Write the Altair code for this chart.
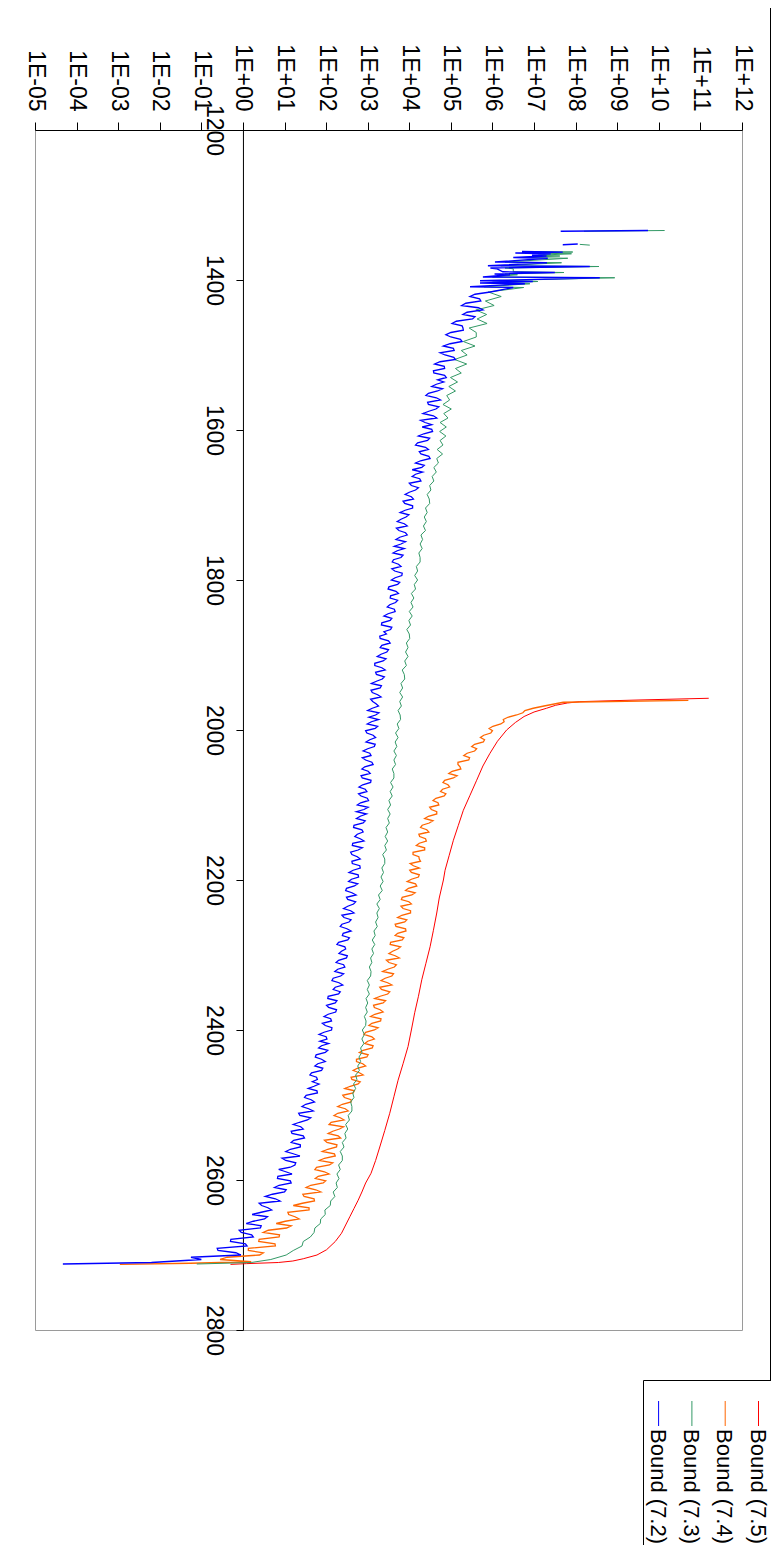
import numpy as np
import pandas as pd
import altair as alt

series_names = ["Bound (7.5)", "Bound (7.4)", "Bound (7.3)", "Bound (7.2)"]
series_colors = ["#FF0000", "#FF6600", "#339966", "#0000FF"]
series_widths = [1.0, 1.3, 1.0, 1.3]

x_ticks = [1e-5, 1e-4, 1e-3, 1e-2, 1e-1, 1e0, 1e1, 1e2, 1e3, 1e4, 1e5, 1e6,
           1e7, 1e8, 1e9, 1e10, 1e11, 1e12]
x_tick_labels = ["1E-05", "1E-04", "1E-03", "1E-02", "1E-01", "1E+00", "1E+01",
                 "1E+02", "1E+03", "1E+04", "1E+05", "1E+06", "1E+07", "1E+08",
                 "1E+09", "1E+10", "1E+11", "1E+12"]
y_ticks = [1200, 1400, 1600, 1800, 2000, 2200, 2400, 2600, 2800]

nan = float("nan")
STEP = 6  # sample spacing of the dense parts (mid samples sit half-way)

# ---- Bound (7.5): exponents (log10 of value)
red_t = [1957.7, 1960.0, 1962.2, 1964, 1967, 1971, 1976, 1982, 1990, 2000, 2015,
         2031, 2048, 2067, 2087, 2107, 2127, 2147, 2167, 2187, 2200, 2224, 2244,
         2267, 2289, 2311, 2333, 2355, 2377, 2400, 2422, 2445, 2467, 2489, 2511,
         2534, 2556, 2574, 2591, 2604, 2616, 2627, 2638, 2649, 2660, 2671, 2682,
         2693, 2700, 2705, 2708, 2710, 2711.5, 2712.5]
red_e = [11.20, 9.50, 8.10, 7.80, 7.52, 7.30, 7.00, 6.76, 6.55, 6.34, 6.12, 5.94,
         5.77, 5.62, 5.46, 5.30, 5.18, 5.06, 4.96, 4.86, 4.82, 4.72, 4.66, 4.58,
         4.50, 4.40, 4.30, 4.22, 4.13, 4.05, 3.97, 3.85, 3.73, 3.63, 3.53, 3.41,
         3.29, 3.19, 3.08, 2.95, 2.86, 2.77, 2.67, 2.57, 2.47, 2.37, 2.22, 2.01,
         1.78, 1.45, 1.20, 0.85, 0.09, -0.30]

# ---- Bound (7.4)
orange_head_t = [1960.5, 1963]
orange_head_e = [10.71, 7.70]
orange_start = 1968
orange_e = [
    7.24, 6.78, 6.58, 6.26, 6.20, 5.92, 5.96, 5.71, 5.78, 5.50,
    5.57, 5.31, 5.43, 5.17, 5.24, 4.95, 5.06, 4.81, 4.97, 4.75,
    4.84, 4.57, 4.71, 4.53, 4.66, 4.37, 4.48, 4.27, 4.47, 4.25,
    4.41, 4.17, 4.37, 4.09, 4.24, 4.02, 4.24, 4.05, 4.22, 3.95,
    4.18, 3.91, 4.06, 3.81, 4.05, 3.85, 4.03, 3.72, 3.89, 3.68,
    3.92, 3.66, 3.83, 3.54, 3.72, 3.51, 3.76, 3.51, 3.64, 3.36,
    3.58, 3.32, 3.58, 3.33, 3.48, 3.17, 3.37, 3.16, 3.37, 3.07,
    3.31, 3.03, 3.16, 2.91, 3.16, 2.93, 3.11, 2.80, 2.98, 2.73,
    2.95, 2.65, 2.89, 2.62, 2.77, 2.45, 2.65, 2.44, 2.60, 2.28,
    2.53, 2.19, 2.43, 2.07, 2.32, 2.05, 2.35, 2.02, 2.25, 1.91,
    2.22, 1.84, 2.08, 1.73, 2.07, 1.74, 1.93, 1.52, 1.87, 1.47,
    1.72, 1.21, 1.59, 1.10, 1.35, 0.80, 1.05, 0.49, 0.87, 0.38,
    0.78, 0.13, 0.40, -0.55]
orange_mid_e = [
    6.98, 6.73, 6.37, 6.28, 6.01, 6.00, 5.79, 5.81, 5.57, 5.62,
    5.39, 5.45, 5.17, 5.22, 5.03, 5.15, 4.85, 4.93, 4.80, 4.88,
    4.64, 4.69, 4.49, 4.66, 4.46, 4.57, 4.31, 4.42, 4.23, 4.39,
    4.24, 4.37, 4.09, 4.23, 4.27, 4.10, 4.01, 4.24, 4.05, 4.15,
    3.98, 4.14, 3.83, 3.99, 3.80, 4.03, 3.82, 3.94, 3.66, 3.91,
    3.72, 3.87, 3.55, 3.79, 3.60, 3.66, 3.45, 3.69, 3.48, 3.62,
    3.42, 3.48, 3.29, 3.53, 3.30, 3.43, 3.14, 3.30, 3.17, 3.32,
    3.10, 3.25, 2.95, 3.10, 3.00, 3.13, 2.89, 3.01, 2.73, 2.88,
    2.75, 2.80, 2.60, 2.82, 2.58, 2.68, 2.40, 2.60, 2.39, 2.46,
    2.28, 2.34, 2.12, 2.42, 2.16, 2.29, 1.96, 2.26, 2.04, 2.20,
    1.96, 2.16, 1.77, 1.96, 1.81, 1.99, 1.63, 1.75, 1.44, 1.71,
    1.43, 1.59, 1.08, 1.25, 1.02, 1.16, 0.61, 0.88, 0.39, 0.77,
    0.13, 0.49, -0.38]
orange_tail_t = [2709, 2711, 2712.5]
orange_tail_e = [0.20, -1.27, -2.96]

# ---- Bound (7.3)
green_top_t = [1334, 1335, 1345, 1352.5, 1353.5, 1358, 1362, 1362.7, 1364, 1365,
               1367, 1368, 1370, 1371, 1376, 1377, 1381, 1382, 1384, 1385, 1389,
               1390, 1392, 1393, 1396, 1397, 1401, 1402, 1404, 1405, 1409, 1410]
green_top_e = [10.14, 8.20, nan, 8.10, 8.34, nan, 7.00, 7.93, 6.80, 7.90, 7.10,
               7.62, 6.70, 7.81, 6.30, 7.66, 6.20, 8.56, 6.30, 6.50, 6.50, 7.72,
               6.30, 6.60, 6.00, 8.94, 6.00, 7.09, 6.00, 6.90, 5.80, 6.75]
green_start = 1416
green_e = [
    5.90, 6.21, 5.83, 6.04, 5.60, 5.86, 5.63, 5.87, 5.44, 5.61,
    5.61, 5.30, 5.58, 5.25, 5.39, 5.09, 5.38, 5.11, 5.25, 4.99,
    5.16, 4.95, 5.11, 4.90, 4.97, 4.81, 5.01, 4.83, 4.93, 4.74,
    4.89, 4.73, 4.88, 4.74, 4.81, 4.67, 4.80, 4.66, 4.70, 4.59,
    4.65, 4.55, 4.59, 4.49, 4.52, 4.43, 4.48, 4.49, 4.39, 4.43,
    4.36, 4.41, 4.34, 4.39, 4.28, 4.32, 4.26, 4.31, 4.23, 4.26,
    4.26, 4.17, 4.20, 4.13, 4.20, 4.12, 4.15, 4.05, 4.11, 4.04,
    4.09, 4.00, 4.07, 3.99, 4.03, 3.94, 4.00, 4.01, 3.93, 3.97,
    3.91, 3.97, 3.89, 3.93, 3.83, 3.88, 3.89, 3.80, 3.84, 3.77,
    3.84, 3.77, 3.81, 3.73, 3.78, 3.79, 3.71, 3.75, 3.67, 3.73,
    3.66, 3.70, 3.63, 3.69, 3.63, 3.67, 3.59, 3.63, 3.63, 3.55,
    3.61, 3.54, 3.59, 3.51, 3.55, 3.48, 3.54, 3.48, 3.52, 3.44,
    3.48, 3.42, 3.48, 3.41, 3.45, 3.36, 3.41, 3.41, 3.34, 3.38,
    3.32, 3.37, 3.30, 3.35, 3.26, 3.30, 3.22, 3.28, 3.22, 3.25,
    3.19, 3.23, 3.15, 3.18, 3.11, 3.17, 3.10, 3.14, 3.07, 3.10,
    3.04, 3.08, 3.07, 2.99, 3.04, 2.99, 3.04, 2.96, 3.00, 2.95,
    2.99, 2.92, 2.96, 2.95, 2.87, 2.92, 2.86, 2.91, 2.83, 2.86,
    2.79, 2.83, 2.76, 2.80, 2.71, 2.74, 2.66, 2.71, 2.64, 2.67,
    2.59, 2.62, 2.62, 2.53, 2.56, 2.47, 2.52, 2.45, 2.48, 2.39,
    2.43, 2.34, 2.39, 2.39, 2.30, 2.34, 2.26, 2.31, 2.24, 2.27,
    2.17, 2.21, 2.11, 2.10, 1.97, 1.98, 1.87, 1.86, 1.73, 1.71,
    1.62, 1.45, 1.42, 1.21, 1.04, 0.67]
green_tail_t = [2710, 2712]
green_tail_e = [0.20, -1.11]

# ---- Bound (7.2)
blue_top_t = [1334, 1335, 1345, 1352, 1353, 1358, 1362, 1362.7, 1364, 1365,
              1367, 1368, 1370, 1371, 1376, 1377, 1381, 1382, 1384, 1385, 1389,
              1390, 1392, 1393, 1396, 1397, 1401, 1402, 1404, 1405, 1409, 1410]
blue_top_e = [9.74, 7.64, nan, 8.05, 7.69, nan, 6.71, 7.69, 6.55, 7.40, 6.95,
              7.30, 6.50, 7.33, 6.06, 7.31, 5.89, 8.34, 5.95, 6.10, 6.25, 7.50,
              6.05, 6.42, 5.77, 8.58, 5.70, 6.97, 5.70, 6.78, 5.46, 6.50]
blue_start = 1416
blue_e = [
    5.95, 5.46, 5.72, 5.26, 5.77, 5.29, 5.52, 5.03, 5.29, 5.00,
    5.00, 5.27, 4.82, 5.08, 4.86, 5.11, 4.61, 4.85, 4.59, 4.89,
    4.83, 4.54, 4.68, 4.40, 4.75, 4.46, 4.64, 4.33, 4.66, 4.38,
    4.31, 4.56, 4.22, 4.44, 4.15, 4.46, 4.28, 4.50, 4.15, 4.30,
    4.32, 4.07, 4.28, 4.05, 4.15, 3.90, 4.10, 3.89, 4.08, 3.78,
    3.92, 3.71, 3.95, 3.75, 3.95, 3.68, 3.80, 3.88, 3.61, 3.80,
    3.59, 3.80, 3.65, 3.82, 3.57, 3.72, 3.49, 3.74, 3.54, 3.67,
    3.47, 3.66, 3.39, 3.54, 3.33, 3.55, 3.45, 3.30, 3.54, 3.30,
    3.46, 3.23, 3.37, 3.17, 3.42, 3.21, 3.35, 3.09, 3.30, 3.11,
    3.32, 3.12, 3.26, 3.00, 3.19, 3.26, 2.99, 3.18, 2.98, 3.19,
    2.96, 3.16, 2.89, 3.08, 2.95, 3.13, 2.86, 3.06, 2.87, 3.07,
    2.79, 2.98, 2.84, 3.02, 2.75, 2.91, 2.97, 2.73, 2.89, 2.66,
    2.89, 2.69, 2.91, 2.63, 2.77, 2.62, 2.82, 2.63, 2.82, 2.55,
    2.78, 2.54, 2.68, 2.47, 2.72, 2.52, 2.66, 2.42, 2.67, 2.43,
    2.55, 2.34, 2.60, 2.39, 2.52, 2.26, 2.47, 2.31, 2.49, 2.24,
    2.45, 2.21, 2.35, 2.14, 2.40, 2.17, 2.30, 2.04, 2.22, 2.06,
    2.23, 1.95, 2.13, 1.98, 2.13, 1.83, 2.02, 2.06, 1.82, 1.98,
    1.74, 1.98, 1.73, 1.89, 1.61, 1.79, 1.83, 1.57, 1.79, 1.48,
    1.72, 1.42, 1.69, 1.37, 1.55, 1.21, 1.45, 1.18, 1.48, 1.16,
    1.38, 1.03, 1.37, 1.03, 1.25, 0.86, 1.18, 0.83, 1.16, 0.76,
    1.00, 0.54, 0.89, 0.45, 0.69, 0.22, 0.52, 0.08, 0.42, -0.04,
    0.25, -0.30, 0.10, -0.60, -0.05, -1.00]
blue_mid_e = [
    5.58, 5.69, 5.36, 5.66, 5.39, 5.58, 5.13, 5.27, 5.30, 4.88,
    5.23, 4.98, 5.06, 4.74, 5.07, 4.74, 4.84, 4.58, 4.85, 4.68,
    4.65, 4.80, 4.46, 4.65, 4.44, 4.71, 4.47, 4.58, 4.27, 4.54,
    4.54, 4.35, 4.49, 4.20, 4.39, 4.24, 4.47, 4.27, 4.36, 4.07,
    4.15, 4.25, 4.00, 4.22, 4.00, 4.05, 3.85, 4.08, 3.90, 3.99,
    3.80, 3.88, 3.69, 3.91, 3.77, 3.91, 3.64, 3.71, 3.85, 3.62,
    3.74, 3.58, 3.83, 3.66, 3.77, 3.51, 3.68, 3.55, 3.72, 3.53,
    3.64, 3.49, 3.58, 3.34, 3.58, 3.39, 3.29, 3.50, 3.34, 3.50,
    3.32, 3.44, 3.17, 3.34, 3.19, 3.40, 3.21, 3.33, 3.08, 3.24,
    3.07, 3.20, 3.11, 3.27, 3.03, 3.09, 3.24, 2.95, 3.13, 3.05,
    3.18, 3.00, 3.05, 2.87, 3.10, 2.93, 3.01, 2.84, 3.08, 2.88,
    2.94, 2.78, 2.99, 2.83, 3.01, 2.73, 2.82, 2.94, 2.67, 2.86,
    2.75, 2.82, 2.64, 2.87, 2.59, 2.75, 2.62, 2.81, 2.65, 2.77,
    2.61, 2.76, 2.49, 2.62, 2.49, 2.71, 2.52, 2.59, 2.38, 2.60,
    2.38, 2.50, 2.41, 2.56, 2.30, 2.45, 2.37, 2.51, 2.30, 2.42,
    2.28, 2.42, 2.17, 2.31, 2.22, 2.34, 2.05, 2.26, 2.01, 2.25,
    2.05, 2.11, 1.91, 2.14, 1.95, 2.00, 1.85, 1.89, 2.04, 1.76,
    1.89, 1.80, 1.92, 1.65, 1.77, 1.67, 1.71, 1.78, 1.52, 1.64,
    1.51, 1.58, 1.34, 1.63, 1.36, 1.39, 1.16, 1.45, 1.22, 1.38,
    1.14, 1.21, 0.94, 1.27, 1.14, 1.03, 0.84, 1.14, 0.87, 1.04,
    0.71, 0.78, 0.39, 0.60, 0.44, 0.59, 0.25, 0.44, -0.09, 0.21,
    -0.29, 0.06, -0.62, -0.17, -1.25]
blue_tail_t = [2710, 2712]
blue_tail_e = [-2.20, -4.33]


def build(parts):
    ts, es = [], []
    for t_part, e_part in parts:
        ts += list(t_part)
        es += list(e_part)
    df = pd.DataFrame({"t": ts, "e": es}).sort_values("t", kind="stable")
    df["seg"] = df["e"].isna().cumsum()
    df = df.dropna().copy()
    df["v"] = 10.0 ** df["e"]
    return df[["t", "v", "seg"]]


def grid(start, values):
    return [start + STEP * i for i in range(len(values))]


df_red = build([(red_t, red_e)])
df_orange = build([(orange_head_t, orange_head_e),
                   (grid(orange_start, orange_e), orange_e),
                   (grid(orange_start + STEP / 2, orange_mid_e), orange_mid_e),
                   (orange_tail_t, orange_tail_e)])
df_green = build([(green_top_t, green_top_e),
                  (grid(green_start, green_e), green_e),
                  (green_tail_t, green_tail_e)])
df_blue = build([(blue_top_t, blue_top_e),
                 (grid(blue_start, blue_e), blue_e),
                 (grid(blue_start + STEP / 2, blue_mid_e), blue_mid_e),
                 (blue_tail_t, blue_tail_e)])

FONT = "Liberation Sans"
W, H = 707, 1200

label_array = "[" + ",".join("'%s'" % s for s in x_tick_labels) + "]"
x_axis = alt.Axis(orient="top", values=x_ticks,
                  labelExpr=label_array + "[round(log(datum.value)/LN10)+5]",
                  labelAngle=90, labelAlign="right", labelBaseline="middle",
                  labelFont=FONT, labelFontSize=23, labelColor="black",
                  labelPadding=11, tickSize=8, tickColor="black",
                  domainColor="black", grid=False, title=None,
                  labelFlush=False, labelOverlap=False)
y_axis = alt.Axis(orient="left", offset=-W * 5 / 17, values=y_ticks,
                  format="d", labelAngle=90, labelAlign="center",
                  labelBaseline="top", labelFont=FONT, labelFontSize=23,
                  labelColor="black", labelPadding=11, tickSize=7,
                  tickColor="black", domainColor="black", grid=False,
                  title=None, labelFlush=False, labelOverlap=False)
x_scale = alt.Scale(type="log", domain=[1e-5, 1e12], nice=False)
y_scale = alt.Scale(domain=[1200, 2800], reverse=True, nice=False, zero=False)


def series_layer(df, color, width):
    return alt.Chart(df).mark_line(color=color, strokeWidth=width).encode(
        x=alt.X("v:Q", scale=x_scale, axis=x_axis),
        y=alt.Y("t:Q", scale=y_scale, axis=y_axis),
        detail="seg:N",
        order="t:Q",
    )


layers = [series_layer(d, c, w) for d, c, w in
          zip([df_red, df_orange, df_green, df_blue], series_colors,
              series_widths)]

one = pd.DataFrame({"k": [0]})


def hrule(x1, x2, y):
    return alt.Chart(one).mark_rule(color="black", strokeWidth=1).encode(
        x=alt.value(x1), x2=alt.value(x2), y=alt.value(y))


def vrule(x, y1, y2, color="black"):
    return alt.Chart(one).mark_rule(color=color, strokeWidth=1).encode(
        x=alt.value(x), y=alt.value(y1), y2=alt.value(y2))


# outer chart frame and legend box (plot-relative pixels)
layers += [
    hrule(-32.5, 735.5, -124.5),
    vrule(-32.5, -124.5, 1425),
    vrule(735.5, -124.5, 1250.5),
    hrule(608.5, 740, 1250.5),
    vrule(608.5, 1250.5, 1425),
]
legend_x0, legend_dx = 723.5, -33.3
for i, (name, color) in enumerate(zip(series_names, series_colors)):
    lx = legend_x0 + legend_dx * i
    layers.append(vrule(lx, 1271, 1296, color=color))
    layers.append(
        alt.Chart(one).mark_text(text=name, angle=90, align="left",
                                 baseline="middle", font=FONT, fontSize=22,
                                 color="black").encode(
            x=alt.value(lx - 1), y=alt.value(1299)))

chart = alt.layer(*layers).properties(
    width=W, height=H,
    autosize=alt.AutoSizeParams(type="none"),
    padding={"left": 27, "top": 122, "right": 29, "bottom": 215},
).configure_view(stroke="#9a9a9a", strokeWidth=1)

chart.save("out.html", embed_options={"renderer": "svg", "actions": False})
